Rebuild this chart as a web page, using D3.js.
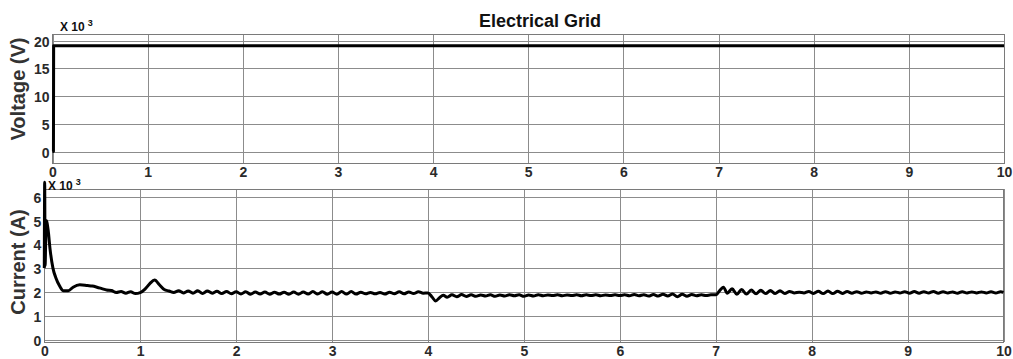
<!DOCTYPE html>
<html lang="en">
<head>
  <meta charset="UTF-8">
  <title>Electrical Grid</title>
  <script src="https://d3js.org/d3.v7.min.js"></script>
  <style>
    body { margin: 0; background: #fff; }
    svg { font-family: "Liberation Sans", Arial, sans-serif; }
    .grid line { stroke: #8c8c8c; stroke-width: 1; shape-rendering: crispEdges; }
    .grid path { display: none; }
    .tick text { font-size: 14px; font-weight: bold; fill: #2a2a2a; }
    .frame { fill: none; stroke: #7a7a7a; stroke-width: 1; shape-rendering: crispEdges; }
    .trace { fill: none; stroke: #000; stroke-width: 3; stroke-linejoin: round; }
  </style>
</head>
<body>
<div class="chart"></div>
<script>
  // time axis (s) and tick labels
  const xTicks = [0, 1, 2, 3, 4, 5, 6, 7, 8, 9, 10];
  const voltageTicks = [0, 5, 10, 15, 20];
  const currentTicks = [0, 1, 2, 3, 4, 5, 6];

  // grid voltage, x10^3 V : [time, value]
  const voltageData = [[0, 0], [0.01, 0], [0.012, 19.1], [10, 19.1]];

  // grid current, x10^3 A : [time, value]
  const currentData = [
    [0, 3.0], [0.004, 6.6], [0.008, 3.1], [0.02, 5.0], [0.04, 4.6], [0.06, 3.8], [0.09, 3.0],
    [0.12, 2.6], [0.16, 2.25], [0.2, 2.05], [0.25, 2.05], [0.3, 2.2], [0.37, 2.3], [0.45, 2.27],
    [0.5, 2.25], [0.55, 2.2], [0.6, 2.14], [0.65, 2.08], [0.7, 2.06], [0.75, 1.98], [0.8, 2.02],
    [0.85, 1.95], [0.9, 2.01], [0.95, 1.93], [1.0, 1.97], [1.05, 2.12], [1.1, 2.35], [1.15, 2.5],
    [1.2, 2.3], [1.25, 2.1], [1.3, 2.04],
    [1.35, 1.98], [1.4, 2.05], [1.45, 1.96], [1.5, 2.04], [1.55, 1.95], [1.6, 2.05], [1.65, 1.94],
    [1.7, 2.04], [1.75, 1.95], [1.8, 2.03], [1.85, 1.93], [1.9, 2.02], [1.95, 1.92], [2.0, 2.01],
    [2.05, 1.91], [2.1, 2.01], [2.15, 1.9], [2.2, 2.0], [2.25, 1.91], [2.3, 2.0], [2.35, 1.9],
    [2.4, 1.99], [2.45, 1.91], [2.5, 1.99], [2.55, 1.9], [2.6, 2.0], [2.65, 1.9], [2.7, 2.0],
    [2.75, 1.91], [2.8, 2.02], [2.85, 1.91], [2.9, 2.01], [2.95, 1.9], [3.0, 2.0], [3.05, 1.9],
    [3.1, 2.02], [3.15, 1.91], [3.2, 2.02], [3.25, 1.91], [3.3, 1.99], [3.35, 1.92], [3.4, 1.98],
    [3.45, 1.92], [3.5, 1.98], [3.55, 1.91], [3.6, 1.99], [3.65, 1.92], [3.7, 2.01], [3.75, 1.92],
    [3.8, 2.0], [3.85, 1.93], [3.9, 2.01], [3.95, 1.95], [4.0, 1.96], [4.04, 1.8], [4.08, 1.62],
    [4.12, 1.76], [4.16, 1.86], [4.2, 1.78], [4.25, 1.88], [4.3, 1.8], [4.35, 1.89], [4.4, 1.81],
    [4.45, 1.88], [4.5, 1.82], [4.55, 1.87], [4.6, 1.83], [4.65, 1.88], [4.7, 1.82], [4.75, 1.87],
    [4.8, 1.83], [4.85, 1.88], [4.9, 1.84], [4.95, 1.88], [5.0, 1.82], [5.05, 1.87], [5.1, 1.83],
    [5.15, 1.88], [5.2, 1.84], [5.25, 1.87], [5.3, 1.85], [5.35, 1.88], [5.4, 1.84], [5.45, 1.87],
    [5.5, 1.85], [5.55, 1.88], [5.6, 1.84], [5.65, 1.88], [5.7, 1.85], [5.75, 1.88], [5.8, 1.84],
    [5.85, 1.87], [5.9, 1.85], [5.95, 1.88], [6.0, 1.85], [6.05, 1.88], [6.1, 1.84], [6.15, 1.89],
    [6.2, 1.84], [6.25, 1.88], [6.3, 1.83], [6.35, 1.89], [6.4, 1.83], [6.45, 1.9], [6.5, 1.83],
    [6.55, 1.91], [6.6, 1.8], [6.65, 1.9], [6.7, 1.82], [6.75, 1.89], [6.8, 1.84], [6.85, 1.88],
    [6.9, 1.85], [6.95, 1.88], [7.0, 1.88], [7.05, 2.1], [7.08, 2.2], [7.12, 1.95], [7.17, 2.13],
    [7.22, 1.9], [7.27, 2.1], [7.32, 1.91], [7.37, 2.08], [7.42, 1.92], [7.47, 2.07], [7.52, 1.93],
    [7.57, 2.06], [7.62, 1.93], [7.67, 2.05], [7.72, 1.94], [7.77, 2.02], [7.82, 1.96], [7.87, 1.99],
    [7.92, 1.96], [7.97, 2.02], [8.02, 1.94], [8.07, 2.03], [8.12, 1.93], [8.17, 2.04], [8.22, 1.93],
    [8.27, 2.03], [8.32, 1.94], [8.37, 2.02], [8.42, 1.95], [8.47, 2.01], [8.52, 1.95], [8.57, 2.0],
    [8.62, 1.96], [8.67, 2.0], [8.72, 1.95], [8.77, 2.01], [8.82, 1.95], [8.87, 2.0], [8.92, 1.96],
    [8.97, 2.01], [9.02, 1.95], [9.07, 2.02], [9.12, 1.95], [9.17, 2.01], [9.22, 1.96], [9.27, 2.02],
    [9.32, 1.95], [9.37, 2.01], [9.42, 1.96], [9.47, 2.0], [9.52, 1.95], [9.57, 2.01], [9.62, 1.96],
    [9.67, 2.0], [9.72, 1.96], [9.77, 2.0], [9.82, 1.96], [9.87, 2.01], [9.92, 1.96], [9.97, 2.01],
    [10.0, 1.98]
  ];

  const width = 1013, height = 359;

  const svg = d3.select(".chart").append("svg")
    .attr("width", width)
    .attr("height", height);

  function panel(opts) {
    const x = d3.scaleLinear().domain([0, 10]).range([opts.left, opts.right]);
    const y = d3.scaleLinear().domain(opts.yDomain).range([opts.bottom, opts.top]);
    const w = opts.right - opts.left, h = opts.bottom - opts.top;

    // horizontal grid + y labels
    svg.append("g")
      .attr("class", "grid")
      .attr("transform", `translate(${opts.left},0)`)
      .call(d3.axisLeft(y).tickValues(opts.yTicks).tickSize(-w).tickPadding(3).tickFormat(d3.format("d")))
      .selectAll("text").attr("dy", "0.4em");

    // vertical grid + x labels
    svg.append("g")
      .attr("class", "grid")
      .attr("transform", `translate(0,${opts.bottom})`)
      .call(d3.axisBottom(x).tickValues(xTicks).tickSize(-h).tickPadding(opts.xPad).tickFormat(d3.format("d")));

    svg.append("rect")
      .attr("class", "frame")
      .attr("x", opts.left).attr("y", opts.top)
      .attr("width", w).attr("height", h);

    const line = d3.line().curve(opts.curve).x(d => x(d[0])).y(d => y(d[1]));
    svg.append("path")
      .datum(opts.data)
      .attr("class", "trace")
      .attr("d", line);

    // axis title
    svg.append("text")
      .attr("transform", `translate(${opts.labelX},${opts.labelY}) rotate(-90)`)
      .attr("text-anchor", "middle")
      .attr("font-size", 20)
      .attr("font-weight", "bold")
      .attr("fill", "#333")
      .text(opts.label);

    // exponent note
    const ex = svg.append("text")
      .attr("x", opts.expX).attr("y", opts.expY)
      .attr("font-size", 12)
      .attr("font-weight", "bold")
      .attr("fill", "#111");
    ex.append("tspan").text("X 10");
    ex.append("tspan").attr("dx", 3).attr("dy", -5).attr("font-size", 9).text("3");
  }

  panel({
    left: 52.5, right: 1004, top: 34, bottom: 163,
    yDomain: [-2.07, 21.2], yTicks: voltageTicks, data: voltageData,
    curve: d3.curveLinear,
    label: "Voltage (V)", labelX: 25, labelY: 89,
    expX: 60, expY: 31, xPad: 4
  });

  panel({
    left: 44.3, right: 1003.5, top: 189, bottom: 342,
    yDomain: [-0.1, 6.32], yTicks: currentTicks, data: currentData,
    curve: d3.curveMonotoneX,
    label: "Current (A)", labelX: 25, labelY: 262,
    expX: 48, expY: 190, xPad: 4
  });

  svg.append("text")
    .attr("x", 540).attr("y", 27)
    .attr("text-anchor", "middle")
    .attr("font-size", 18)
    .attr("font-weight", "bold")
    .attr("fill", "#111")
    .text("Electrical Grid");
</script>
</body>
</html>
